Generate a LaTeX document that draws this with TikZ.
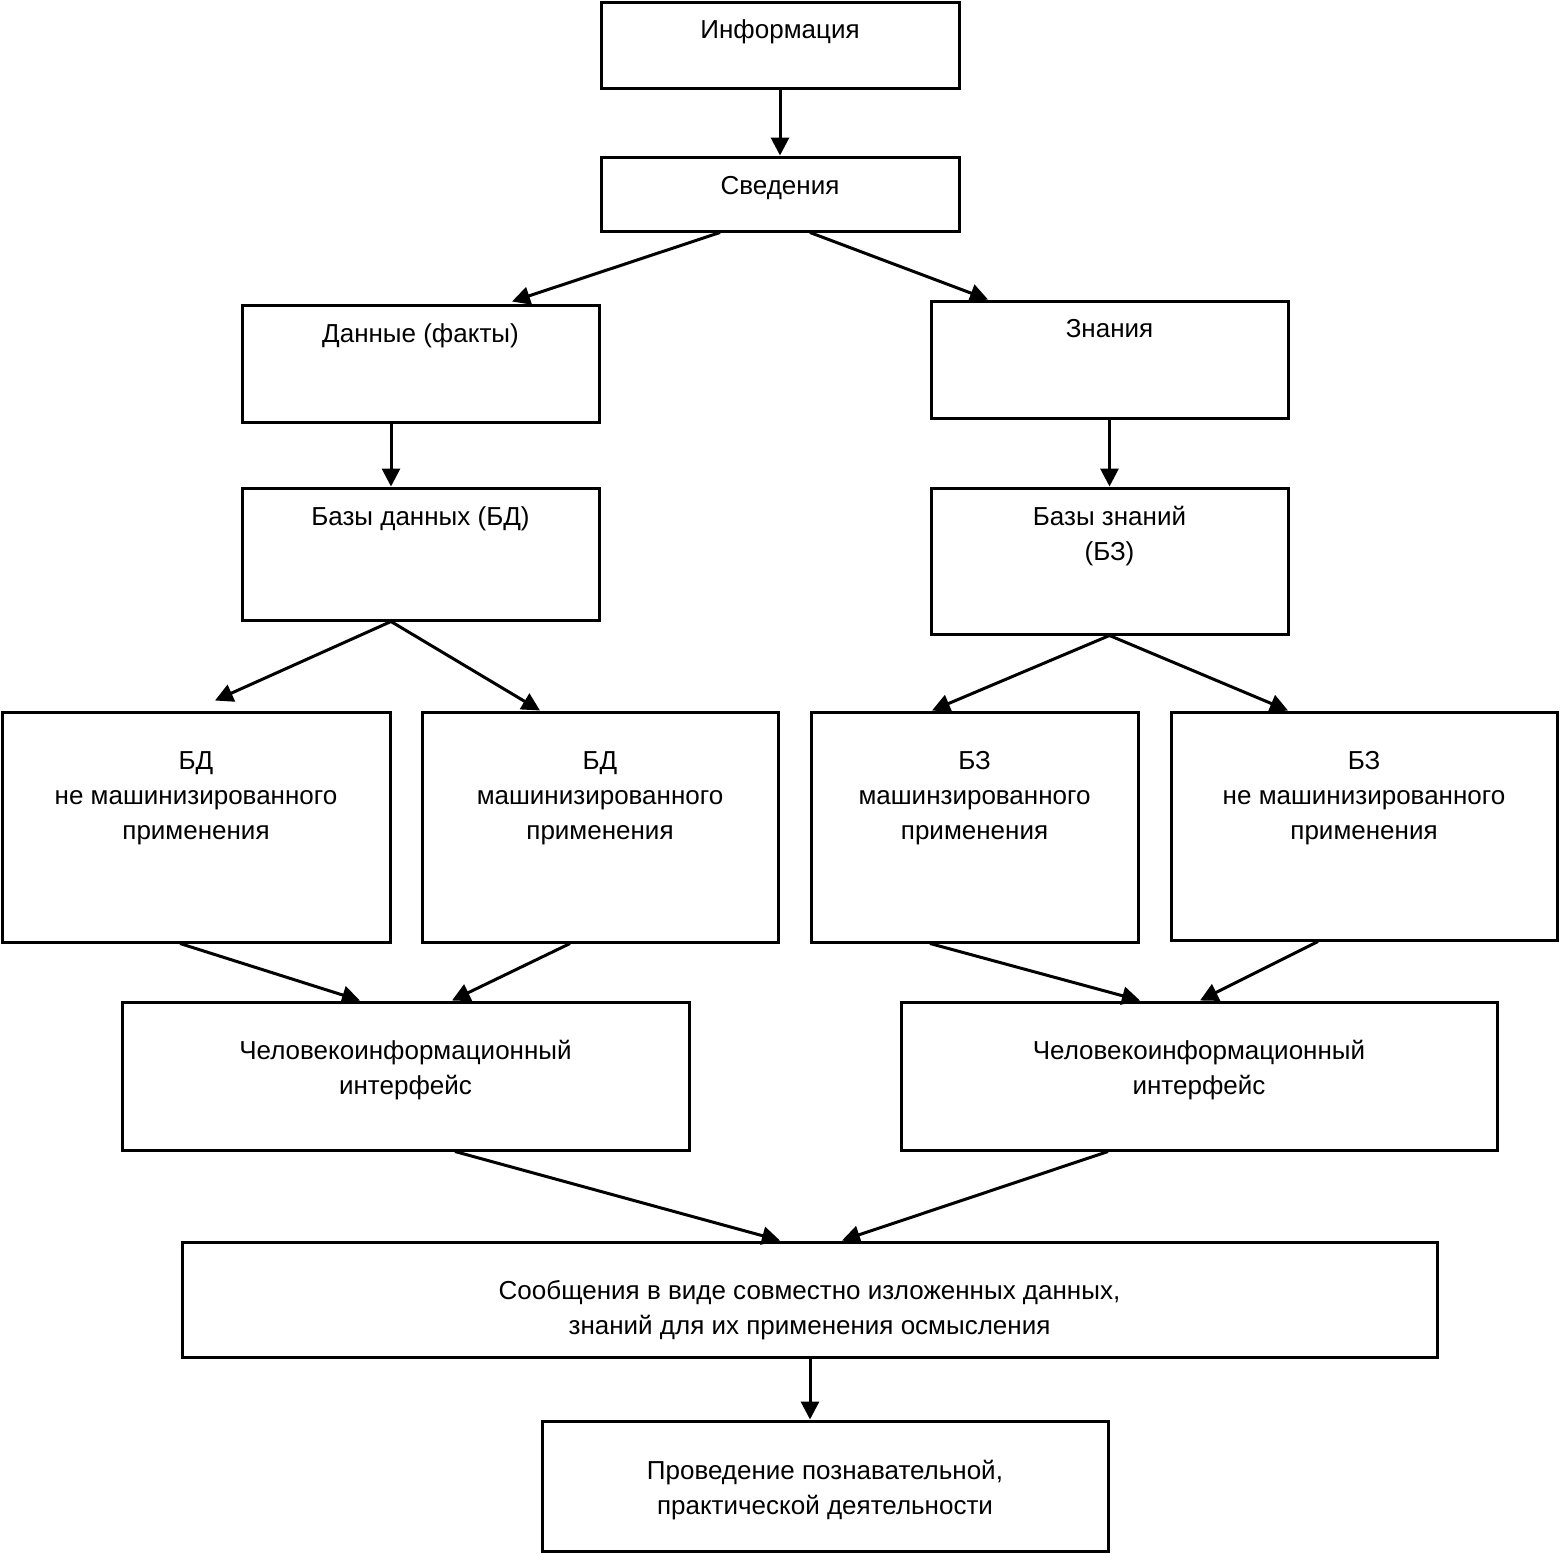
\documentclass[tikz,border=0pt]{standalone}
\usepackage{fontspec}
\setmainfont{Liberation Sans}
\usetikzlibrary{arrows.meta}
\begin{document}
\begin{tikzpicture}[x=0.5pt,y=-0.5pt,
  box/.style={draw, line width=1.5pt, rectangle, inner sep=0pt},
  txt/.style={font=\fontsize{13}{17.5}\selectfont, align=center, inner sep=0pt, anchor=base},
  arr/.style={line width=1.5pt, -{Triangle[length=9pt,width=9pt]}}]
\useasboundingbox (0,0) rectangle (1560,1554);
% boxes
\node[box, minimum width=179pt, minimum height=43pt] (info) at (780,45) {};
\node[box, minimum width=179pt, minimum height=37pt] (sved) at (780,194) {};
\node[box, minimum width=178.5pt, minimum height=58.5pt] (dan) at (420.5,363.5) {};
\node[box, minimum width=178.5pt, minimum height=58.5pt] (zn) at (1109.5,359.5) {};
\node[box, minimum width=178.5pt, minimum height=66pt] (bd) at (420.5,554) {};
\node[box, minimum width=178.5pt, minimum height=73pt] (bz) at (1109.5,561) {};
\node[box, minimum width=194pt, minimum height=115pt] (bda) at (196,827) {};
\node[box, minimum width=178pt, minimum height=115pt] (bdb) at (600,827) {};
\node[box, minimum width=163.5pt, minimum height=115pt] (bza) at (974.5,827) {};
\node[box, minimum width=193pt, minimum height=114pt] (bzb) at (1364,826) {};
\node[box, minimum width=283.5pt, minimum height=74pt] (hcia) at (405.5,1076) {};
\node[box, minimum width=298pt, minimum height=74pt] (hcib) at (1199,1076) {};
\node[box, minimum width=627.5pt, minimum height=57.5pt] (msg) at (809.5,1299.5) {};
\node[box, minimum width=283pt, minimum height=65pt] (act) at (825,1486) {};
% texts (anchor base = baseline of the last line)
\node[txt] (t1) at (780,38) {Информация};
\node[txt] (t2) at (780,194) {Сведения};
\node[txt] (t3) at (420.5,342) {Данные (факты)};
\node[txt] (t4) at (1109.5,337) {Знания};
\node[txt] (t5) at (420.5,525) {Базы данных (БД)};
\node[txt] (t6) at (1109.5,560) {Базы знаний\\(БЗ)};
\node[txt] (t7) at (196,839) {БД\\не машинизированного\\применения};
\node[txt] (t8) at (600,839) {БД\\машинизированного\\применения};
\node[txt] (t9) at (974.5,839) {БЗ\\машинзированного\\применения};
\node[txt] (t10) at (1364,839) {БЗ\\не машинизированного\\применения};
\node[txt] (t11) at (405.5,1094) {Человекоинформационный\\интерфейс};
\node[txt] (t12) at (1199,1094) {Человекоинформационный\\интерфейс};
\node[txt] (t13) at (809.5,1334) {Сообщения в виде совместно изложенных данных,\\знаний для их применения осмысления};
\node[txt] (t14) at (825,1514) {Проведение познавательной,\\практической деятельности};
% arrows
\draw[arr] (info.south) -- (sved.north);
\draw[arr] ([xshift=-30pt]sved.south) -- ([xshift=45.75pt,yshift=1pt]dan.north);
\draw[arr] ([xshift=15pt]sved.south) -- ([xshift=-60.75pt]zn.north);
\draw[arr] ([xshift=-14.75pt]dan.south) -- ([xshift=-14.75pt]bd.north);
\draw[arr] (zn.south) -- (bz.north);
\draw[arr] ([xshift=-14.75pt]bd.south) -- ([xshift=9.5pt,yshift=5pt]bda.north);
\draw[arr] ([xshift=-14.75pt]bd.south) -- ([xshift=-30pt]bdb.north);
\draw[arr] (bz.south) -- ([xshift=-21.25pt]bza.north);
\draw[arr] (bz.south) -- ([xshift=-38pt]bzb.north);
\draw[arr] ([xshift=-8pt]bda.south) -- ([xshift=-22.75pt]hcia.north);
\draw[arr] ([xshift=-15pt]bdb.south) -- ([xshift=23.25pt]hcia.north);
\draw[arr] ([xshift=-22.25pt]bza.south) -- ([xshift=-29.5pt]hcib.north);
\draw[arr] ([xshift=-23pt]bzb.south) -- ([xshift=0.5pt]hcib.north);
\draw[arr] ([xshift=24.75pt]hcia.south) -- ([xshift=-14.75pt]msg.north);
\draw[arr] ([xshift=-45.5pt]hcib.south) -- ([xshift=16.25pt]msg.north);
\draw[arr] ([xshift=0.25pt]msg.south) -- ([xshift=-7.5pt]act.north);
\end{tikzpicture}
\end{document}
